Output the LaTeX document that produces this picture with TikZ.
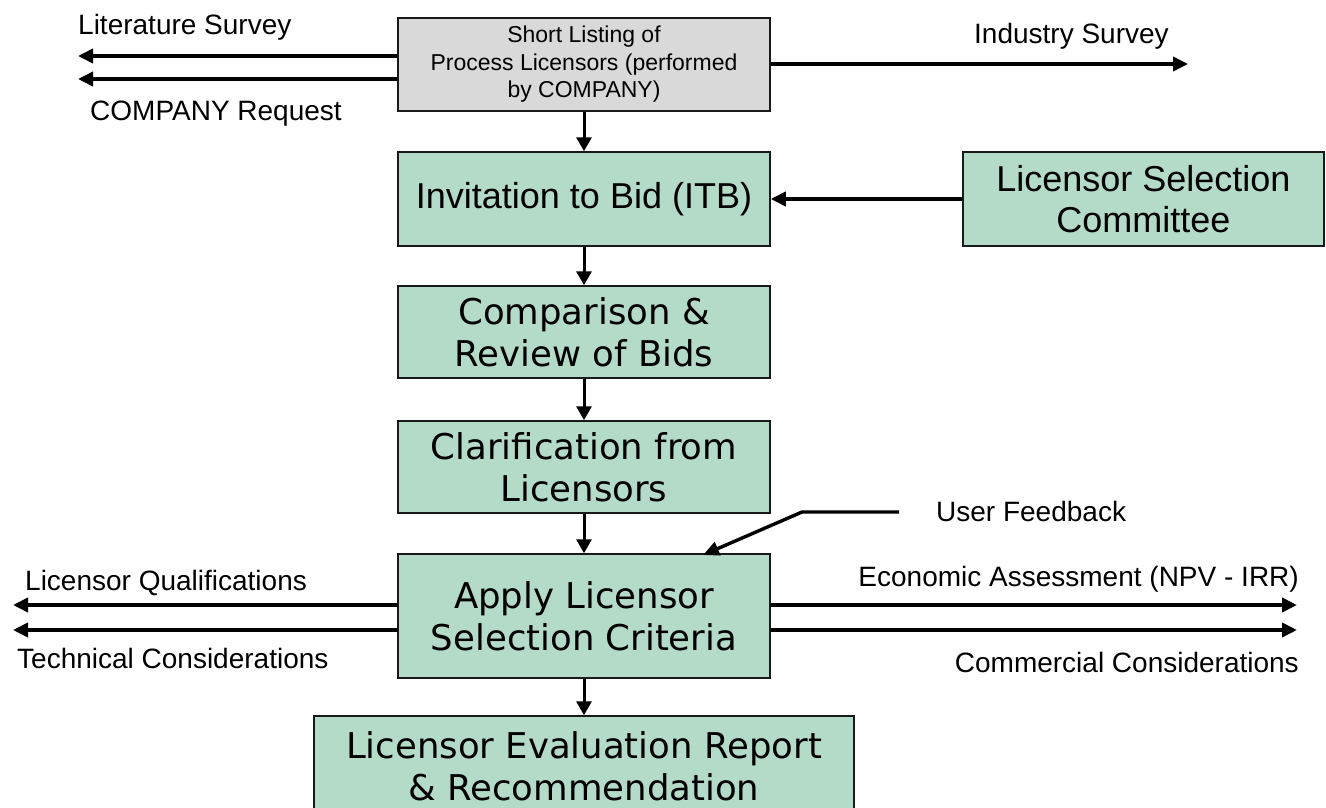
\documentclass[tikz,border=0pt]{standalone}
\usepackage{fontspec}
\setmainfont{Liberation Sans}
\newfontfamily\verd{DejaVu Sans}
\usetikzlibrary{arrows.meta}
\definecolor{boxgreen}{RGB}{180,218,200}
\definecolor{boxgray}{RGB}{217,217,217}
\definecolor{edge}{RGB}{25,25,25}
\tikzset{
  gbox/.style={draw=edge, line width=1.5pt, fill=boxgreen, align=center, inner sep=0pt},
  graybox/.style={gbox, fill=boxgray},
  vfont/.style={font=\verd\fontsize{35.5}{42}\selectfont},
  afont/.style={font=\fontsize{36}{41}\selectfont},
  lbl/.style={font=\fontsize{28}{32}\selectfont, inner sep=0pt},
  harr/.style={line width=3.6pt, -{Triangle[length=15pt,width=14pt]}},
  varr/.style={line width=3pt, -{Triangle[length=14pt,width=15pt]}},
}
\begin{document}
\begin{tikzpicture}[x=1pt,y=-1pt]
\useasboundingbox (0,0) rectangle (1326,808);
\fill[white] (0,0) rectangle (1326,808);
\clip (0,0) rectangle (1326,808);

% boxes
\node[graybox, minimum width=372pt, minimum height=93pt,
      font=\fontsize{23}{27.5}\selectfont] (short) at (584,64.5)
      {Short Listing of\\Process Licensors (performed\\by COMPANY)};
\node[gbox, afont, minimum width=372pt, minimum height=94pt] (inv) at (584,199)
      {Invitation to Bid (ITB)};
\node[gbox, afont, minimum width=361pt, minimum height=94pt] (comm) at (1143.5,199)
      {Licensor Selection\\Committee};
\node[gbox, vfont, minimum width=372pt, minimum height=92pt] (comp) at (584,332)
      {Comparison \&\\Review of Bids};
\node[gbox, vfont, minimum width=372pt, minimum height=92pt] (clar) at (584,467)
      {Clarification from\\Licensors};
\node[gbox, vfont, minimum width=372pt, minimum height=124pt] (apply) at (584,616)
      {Apply Licensor\\Selection Criteria};
\node[gbox, vfont, minimum width=540pt, minimum height=100pt] (eval) at (584,766)
      {Licensor Evaluation Report\\\& Recommendation};

% free ends
\coordinate (ls) at (78,56);
\coordinate (cr) at (78,79);
\coordinate (is) at (1188,64);
\coordinate (lq) at (13,605);
\coordinate (tc) at (13,630);
\coordinate (ea) at (1297,605);
\coordinate (cc) at (1297,630);
\coordinate (fbs) at (899,512);
\coordinate (fbk) at (802,512);
\coordinate (fbt) at (703,555);

% connectors
\draw[harr] (short.west |- ls) -- (ls);
\draw[harr] (short.west |- cr) -- (cr);
\draw[harr] (short.east |- is) -- (is);
\draw[harr] (comm.west) -- (inv.east);
\draw[varr] (short.south) -- (inv.north);
\draw[varr] (inv.south) -- (comp.north);
\draw[varr] (comp.south) -- (clar.north);
\draw[varr] (clar.south) -- (apply.north);
\draw[varr] (apply.south) -- (eval.north);
\draw[harr] (apply.west |- lq) -- (lq);
\draw[harr] (apply.west |- tc) -- (tc);
\draw[harr] (apply.east |- ea) -- (ea);
\draw[harr] (apply.east |- cc) -- (cc);
\draw[line width=3.4pt, -{Triangle[length=16pt,width=14pt]}] (fbs) -- (fbk) -- (fbt);

% labels
\node[lbl, anchor=base west] (t1) at (78,35) {Literature Survey};
\node[lbl, anchor=base west] (t2) at (90,121) {COMPANY Request};
\node[lbl, anchor=base west] (t3) at (974,44) {Industry Survey};
\node[lbl, anchor=base west] (t4) at (936,521) {User Feedback};
\node[lbl, anchor=base west] (t5) at (25,590) {Licensor Qualifications};
\node[lbl, anchor=base west] (t6) at (17,668) {Technical Considerations};
\node[lbl, anchor=base east] (t7) at (1299,586) {Economic Assessment (NPV - IRR)};
\node[lbl, anchor=base east] (t8) at (1299,672) {Commercial Considerations};
\end{tikzpicture}
\end{document}
